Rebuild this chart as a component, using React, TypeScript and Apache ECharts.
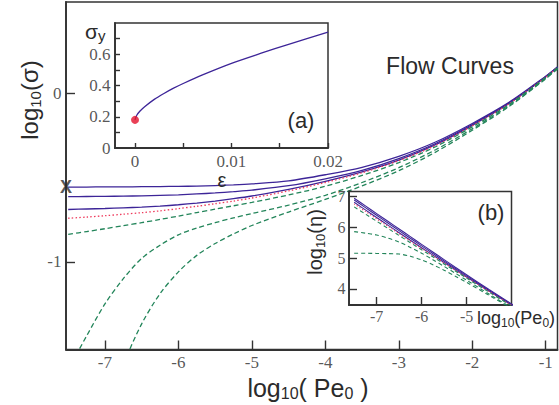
import React, { useEffect, useRef } from 'react';
import * as echarts from 'echarts';

// ---- main panel: log10(sigma) vs log10(Pe0) ----
const logPe = [-7.5, -7.25, -7, -6.75, -6.5, -6.25, -6, -5.75, -5.5, -5.25, -5, -4.5, -4, -3.5, -3, -2.5, -2, -1.5, -1, -0.84];
const solid1 = [-0.557, -0.557, -0.556, -0.556, -0.555, -0.554, -0.553, -0.551, -0.548, -0.544, -0.538, -0.520, -0.484, -0.440, -0.375, -0.290, -0.180, -0.055, 0.100, 0.155];
const solid2 = [-0.614, -0.613, -0.612, -0.611, -0.609, -0.606, -0.603, -0.598, -0.592, -0.584, -0.575, -0.549, -0.508, -0.458, -0.388, -0.299, -0.186, -0.059, 0.098, 0.154];
const solid3 = [-0.690, -0.687, -0.684, -0.680, -0.676, -0.670, -0.662, -0.652, -0.640, -0.626, -0.610, -0.571, -0.523, -0.467, -0.397, -0.306, -0.191, -0.062, 0.096, 0.153];
const dotted = [-0.742, -0.735, -0.727, -0.718, -0.709, -0.698, -0.685, -0.671, -0.656, -0.640, -0.622, -0.580, -0.530, -0.472, -0.401, -0.310, -0.194, -0.064, 0.095, 0.152];
const dashed1 = [-0.838, -0.821, -0.804, -0.786, -0.768, -0.749, -0.729, -0.708, -0.688, -0.668, -0.648, -0.604, -0.552, -0.488, -0.412, -0.318, -0.200, -0.068, 0.093, 0.150];
const dashed2 = [-1.640, -1.440, -1.250, -1.100, -0.980, -0.902, -0.840, -0.800, -0.768, -0.740, -0.714, -0.664, -0.606, -0.530, -0.442, -0.336, -0.211, -0.075, 0.088, 0.146];
const dashed3 = [-2.340, -2.093, -1.848, -1.605, -1.368, -1.189, -1.060, -0.962, -0.892, -0.835, -0.785, -0.705, -0.630, -0.550, -0.460, -0.350, -0.220, -0.080, 0.085, 0.143];
const yieldMarker = [-7.53, -0.557];
const mainXRange = [-7.53, -0.84];
const mainYRange = [-1.52, 0.54];
const mainXTicks = [-7, -6, -5, -4, -3, -2, -1];
const mainYTicks = [-1, 0];

// ---- inset (a): sigma_y vs epsilon ----
const strain = [0, 0.0002, 0.0005, 0.001, 0.002, 0.003, 0.004, 0.005, 0.007, 0.01, 0.013, 0.016, 0.02];
const sigmaY = [0.18, 0.211, 0.235, 0.264, 0.311, 0.349, 0.383, 0.413, 0.468, 0.542, 0.605, 0.665, 0.742];
const redDot = [0, 0.18];
const aXRange = [-0.00207, 0.02];
const aYRange = [0, 0.8];
const aXLabels = [0, 0.01, 0.02];
const aXTicks = [0, 0.005, 0.01, 0.015, 0.02];
const aYLabels = [0, 0.2, 0.4, 0.6];
const aYTicks = [0.1, 0.2, 0.3, 0.4, 0.5, 0.6, 0.7];

// ---- inset (b): log10(eta) = log10(sigma) - log10(Pe0) ----
const bXRange = [-7.615, -4.0];
const bYRange = [3.48, 7.16];
const bXTicks = [-7, -6, -5];
const bYTicks = [4, 5, 6, 7];

const PURPLE = '#3d2598';
const GREEN = '#23855a';
const RED = '#ee3a5c';
const INK = '#2b2b2b';
const SERIF = 'Liberation Serif';
const SANS = 'Liberation Sans';

const curves = [
  { data: solid1, color: PURPLE, type: 'solid' },
  { data: solid2, color: PURPLE, type: 'solid' },
  { data: solid3, color: PURPLE, type: 'solid' },
  { data: dotted, color: RED, type: [1.5, 2.2] },
  { data: dashed1, color: GREEN, type: [5, 3] },
  { data: dashed2, color: GREEN, type: [5, 3] },
  { data: dashed3, color: GREEN, type: [5, 3] },
];

function axisCommon(ticks: number[], tickLen: number) {
  return {
    type: 'value',
    splitLine: { show: false },
    axisLine: { show: true, onZero: false, lineStyle: { color: '#333', width: 1.8 } },
    axisTick: { show: true, inside: true, length: tickLen, customValues: ticks, lineStyle: { color: '#333', width: 1.4 } },
    axisLabel: { show: false },
  };
}

// tick labels drawn as labels of invisible points placed on the axis through the axis scale
function tickLabels(idx: number, values: number[], fixed: number, isX: boolean, dist: number, fs: number) {
  return {
    type: 'scatter',
    xAxisIndex: idx,
    yAxisIndex: idx,
    data: values.map((v) => (isX ? [v, fixed] : [fixed, v])),
    symbolSize: 1,
    itemStyle: { color: 'rgba(0,0,0,0)' },
    clip: false,
    silent: true,
    z: 8,
    label: {
      show: true,
      position: isX ? 'bottom' : 'left',
      distance: dist,
      fontFamily: SERIF,
      fontSize: fs,
      color: INK,
      formatter: (p: any) => String(isX ? p.value[0] : p.value[1]),
    },
  };
}

function subText(main: string[], subs: string[], fs: number, sfs: number, lh: number) {
  let t = '';
  for (let i = 0; i < main.length; i++) {
    t += `{m|${main[i]}}`;
    if (subs[i]) t += `{s|${subs[i]}}`;
  }
  return {
    text: t,
    rich: {
      m: { fontSize: fs, fontFamily: SANS, lineHeight: lh, fill: INK, color: INK },
      s: { fontSize: sfs, fontFamily: SANS, lineHeight: sfs, verticalAlign: 'bottom', fill: INK, color: INK },
    },
  };
}

export default function App() {
  const ref = useRef<HTMLDivElement>(null);
  useEffect(() => {
    if (!ref.current) return;
    const chart = echarts.init(ref.current, undefined, { renderer: 'svg' });

    const mainSeries = curves.map((c) => ({
      type: 'line',
      xAxisIndex: 0,
      yAxisIndex: 0,
      data: logPe.map((x, i) => [x, c.data[i]]),
      symbol: 'none',
      smooth: 0.3,
      lineStyle: { color: c.color, width: 1.3, type: c.type },
      z: 3,
    }));
    const insetBSeries = curves.map((c) => ({
      type: 'line',
      xAxisIndex: 2,
      yAxisIndex: 2,
      data: logPe.map((x, i) => [x, +(c.data[i] - x).toFixed(4)]),
      symbol: 'none',
      smooth: 0.3,
      lineStyle: { color: c.color, width: 1.1, type: c.type === 'solid' ? 'solid' : (c.color === RED ? [1.2, 2] : [4, 3]) },
      z: 5,
    }));

    const option = {
      animation: false,
      backgroundColor: '#ffffff',
      grid: [
        { left: 66, top: 2, width: 491.5, height: 347.5, show: true, borderColor: '#333', borderWidth: 1.5, containLabel: false },
        { left: 115, top: 23, width: 213, height: 125, show: true, backgroundColor: '#fff', borderColor: '#333', borderWidth: 1.5, z: 4 },
        { left: 349, top: 191.5, width: 162.5, height: 113.5, show: true, backgroundColor: '#fff', borderColor: '#333', borderWidth: 1.5, z: 4 },
      ],
      xAxis: [
        { ...axisCommon(mainXTicks, 9), gridIndex: 0, min: mainXRange[0], max: mainXRange[1] },
        { ...axisCommon(aXTicks, 5), gridIndex: 1, min: aXRange[0], max: aXRange[1], z: 5 },
        { ...axisCommon(bXTicks, 8), gridIndex: 2, min: bXRange[0], max: bXRange[1], z: 5 },
      ],
      yAxis: [
        { ...axisCommon(mainYTicks, 9), gridIndex: 0, min: mainYRange[0], max: mainYRange[1] },
        { ...axisCommon(aYTicks, 5), gridIndex: 1, min: aYRange[0], max: aYRange[1], z: 5 },
        { ...axisCommon(bYTicks, 8), gridIndex: 2, min: bYRange[0], max: bYRange[1], z: 5 },
      ],
      series: [
        ...mainSeries,
        {
          type: 'scatter',
          xAxisIndex: 0,
          yAxisIndex: 0,
          data: [yieldMarker],
          symbolSize: 1,
          itemStyle: { color: 'rgba(0,0,0,0)' },
          clip: false,
          label: { show: true, formatter: 'X', position: 'inside', fontFamily: SANS, fontSize: 18, fontWeight: 'bold', color: INK },
          z: 6,
        },
        {
          type: 'line',
          xAxisIndex: 1,
          yAxisIndex: 1,
          data: strain.map((e, i) => [e, sigmaY[i]]),
          symbol: 'none',
          smooth: 0.3,
          lineStyle: { color: PURPLE, width: 1.3 },
          z: 5,
        },
        {
          type: 'scatter',
          xAxisIndex: 1,
          yAxisIndex: 1,
          data: [redDot],
          symbolSize: 8,
          itemStyle: { color: '#e3102c' },
          clip: false,
          z: 6,
        },
        ...insetBSeries,
        tickLabels(0, mainXTicks, mainYRange[0], true, 4, 17),
        tickLabels(0, mainYTicks, mainXRange[0], false, 4, 17),
        tickLabels(1, aXLabels, aYRange[0], true, 4, 17),
        tickLabels(1, aYLabels, aXRange[0], false, 4, 17),
        tickLabels(2, bXTicks, bYRange[0], true, 3, 16),
        tickLabels(2, bYTicks, bXRange[0], false, 3, 16),
      ],
      graphic: [
        {
          type: 'text', x: 29, y: 100, rotation: Math.PI / 2, z: 10,
          style: { ...subText(['log', '(σ)'], ['10', ''], 24, 15, 28), align: 'center', verticalAlign: 'middle' },
        },
        {
          type: 'text', x: 308, y: 388, z: 10,
          style: { ...subText(['log', '( Pe', ' )'], ['10', '0', ''], 25, 16, 26), align: 'center', verticalAlign: 'middle' },
        },
        {
          type: 'text', x: 450, y: 66, z: 10,
          style: { text: 'Flow Curves', fontFamily: SANS, fontSize: 23, fill: INK, align: 'center', verticalAlign: 'middle' },
        },
        {
          type: 'text', x: 85, y: 31, z: 10,
          style: { ...subText(['σ'], ['y'], 21, 15, 24), align: 'left', verticalAlign: 'middle' },
        },
        {
          type: 'text', x: 222, y: 180, z: 10,
          style: { text: 'ε', fontFamily: SANS, fontSize: 20, fill: INK, align: 'center', verticalAlign: 'middle' },
        },
        {
          type: 'text', x: 301, y: 120, z: 10,
          style: { text: '(a)', fontFamily: SANS, fontSize: 22, fill: INK, align: 'center', verticalAlign: 'middle' },
        },
        {
          type: 'text', x: 491, y: 212, z: 10,
          style: { text: '(b)', fontFamily: SANS, fontSize: 22, fill: INK, align: 'center', verticalAlign: 'middle' },
        },
        {
          type: 'text', x: 315, y: 242, rotation: Math.PI / 2, z: 10,
          style: { ...subText(['log', '(η)'], ['10', ''], 20, 13, 24), align: 'center', verticalAlign: 'middle' },
        },
        {
          type: 'text', x: 477, y: 318, z: 10,
          style: { ...subText(['log', '(Pe', ')'], ['10', '0', ''], 18, 12, 22), align: 'left', verticalAlign: 'middle' },
        },
      ],
    };

    chart.setOption(option as any);
    return () => chart.dispose();
  }, []);

  return <div ref={ref} style={{ position: 'fixed', left: 0, top: 0, width: 559, height: 405 }} />;
}
